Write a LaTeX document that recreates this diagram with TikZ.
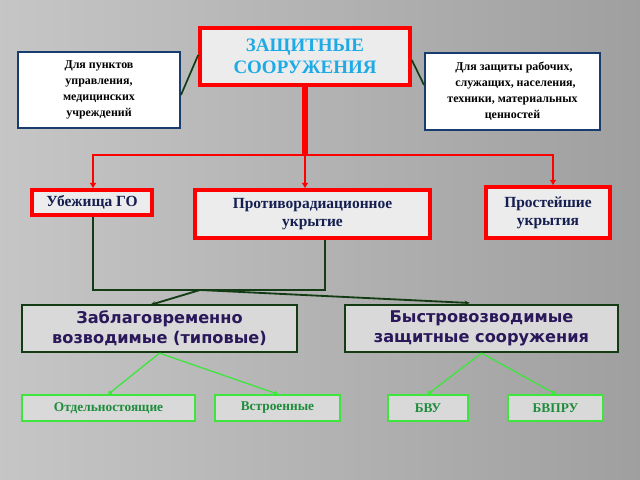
\documentclass[tikz,border=0pt]{standalone}
\usepackage{fontspec}
\setmainfont{Liberation Serif}
\setsansfont{DejaVu Sans}
\usetikzlibrary{arrows.meta}

\definecolor{navytext}{RGB}{20,30,80}
\definecolor{titleblue}{RGB}{30,170,230}
\definecolor{darkgreen}{RGB}{20,60,20}
\definecolor{lightgreen}{RGB}{60,230,60}
\definecolor{greentext}{RGB}{30,140,60}
\definecolor{boxblue}{RGB}{25,60,110}

\tikzset{
  redbox/.style={draw=red, line width=2.2pt, fill=gray!15, text=navytext, font=\bfseries\fontsize{11}{13}\selectfont, align=center, inner sep=0pt},
  bluebox/.style={draw=boxblue, line width=1.4pt, fill=white, text=black, font=\bfseries\fontsize{8.5}{11.5}\selectfont, align=center, inner sep=0pt},
  greenbox/.style={draw=darkgreen, line width=1.6pt, fill=gray!30, text=navytext!80!violet, font=\sffamily\bfseries\fontsize{11.5}{14}\selectfont, align=center, inner sep=0pt},
  leafbox/.style={draw=lightgreen, line width=1.4pt, fill=gray!30, text=greentext, font=\bfseries\fontsize{9.5}{11}\selectfont, align=center, inner sep=0pt},
  redline/.style={red, line width=1.6pt, -{Latex[length=4pt,width=5pt]}},
}

\begin{document}
\begin{tikzpicture}[x=0.025cm, y=-0.025cm]

\useasboundingbox (0,0) rectangle (640,480);
\shade[left color=gray!45, right color=gray!75] (0,0) rectangle (640,480);

% top row
\node[redbox, line width=2.6pt, text=titleblue, font=\bfseries\fontsize{13.5}{16}\selectfont, minimum width=210*0.025cm, minimum height=57*0.025cm] (title) at (305,56.5) {ЗАЩИТНЫЕ\\СООРУЖЕНИЯ};
\node[bluebox, minimum width=162*0.025cm, minimum height=76*0.025cm] (command) at (99,90) {Для пунктов\\управления,\\медицинских\\учреждений};
\node[bluebox, minimum width=175*0.025cm, minimum height=77*0.025cm] (people) at (512.5,91.5) {\ Для защиты рабочих,\\\ \ служащих, населения,\\техники, материальных\\ценностей};

\draw[darkgreen, line width=1.2pt] (title.west |- 0,55) -- (command.east |- 0,95);
\draw[darkgreen, line width=1.2pt] (title.east |- 0,60) -- (people.west |- 0,85);

% second row
\node[redbox, minimum width=120*0.025cm, minimum height=25*0.025cm] (shelter) at (92,202.5) {Убежища ГО};
\node[redbox, minimum width=235*0.025cm, minimum height=48*0.025cm] (antirad) at (312.5,214) {Противорадиационное\\укрытие};
\node[redbox, minimum width=124*0.025cm, minimum height=51*0.025cm] (simple) at (548,212.5) {Простейшие\\укрытия};

\coordinate (split) at (305,155);
\draw[red, line width=4pt] (title.south) -- (split);
\draw[redline] (split) -- (93,155) -- (shelter.north -| 93,0);
\draw[redline] (split) -- (antirad.north -| split);
\draw[redline] (split) -- (553,155) -- (simple.north -| 553,0);

% third row
\node[greenbox, minimum width=275*0.025cm, minimum height=47*0.025cm] (early) at (159.5,328.5) {Заблаговременно\\возводимые (типовые)};
\node[greenbox, minimum width=273*0.025cm, minimum height=47*0.025cm] (rapid) at (481.5,328.5) {Быстровозводимые\\защитные сооружения};

\coordinate (join) at (200,290);
\draw[darkgreen, line width=1.3pt] (shelter.south -| 93,0) -- (93,290) -- (325,290) -- (antirad.south -| 325,0);
\draw[darkgreen, line width=1.3pt, -{Stealth[length=4pt]}] (join) -- (150,305);
\draw[darkgreen, line width=1.3pt, -{Stealth[length=4pt]}] (join) -- (470,303);

% bottom row
\node[leafbox, minimum width=173*0.025cm, minimum height=26*0.025cm] (detached) at (108.5,408) {Отдельностоящие};
\node[leafbox, minimum width=125*0.025cm, minimum height=26*0.025cm] (builtin) at (277.5,408) {Встроенные};
\node[leafbox, minimum width=80*0.025cm, minimum height=26*0.025cm] (bvu) at (428,408) {БВУ};
\node[leafbox, minimum width=95*0.025cm, minimum height=26*0.025cm] (bvpru) at (555.5,408) {БВПРУ};

\foreach \from/\to in {early/detached, early/builtin, rapid/bvu, rapid/bvpru}{
  \draw[lightgreen, line width=0.9pt, -{Circle[length=3pt]}] (\from.south) -- (\to.north);
}

\end{tikzpicture}
\end{document}
